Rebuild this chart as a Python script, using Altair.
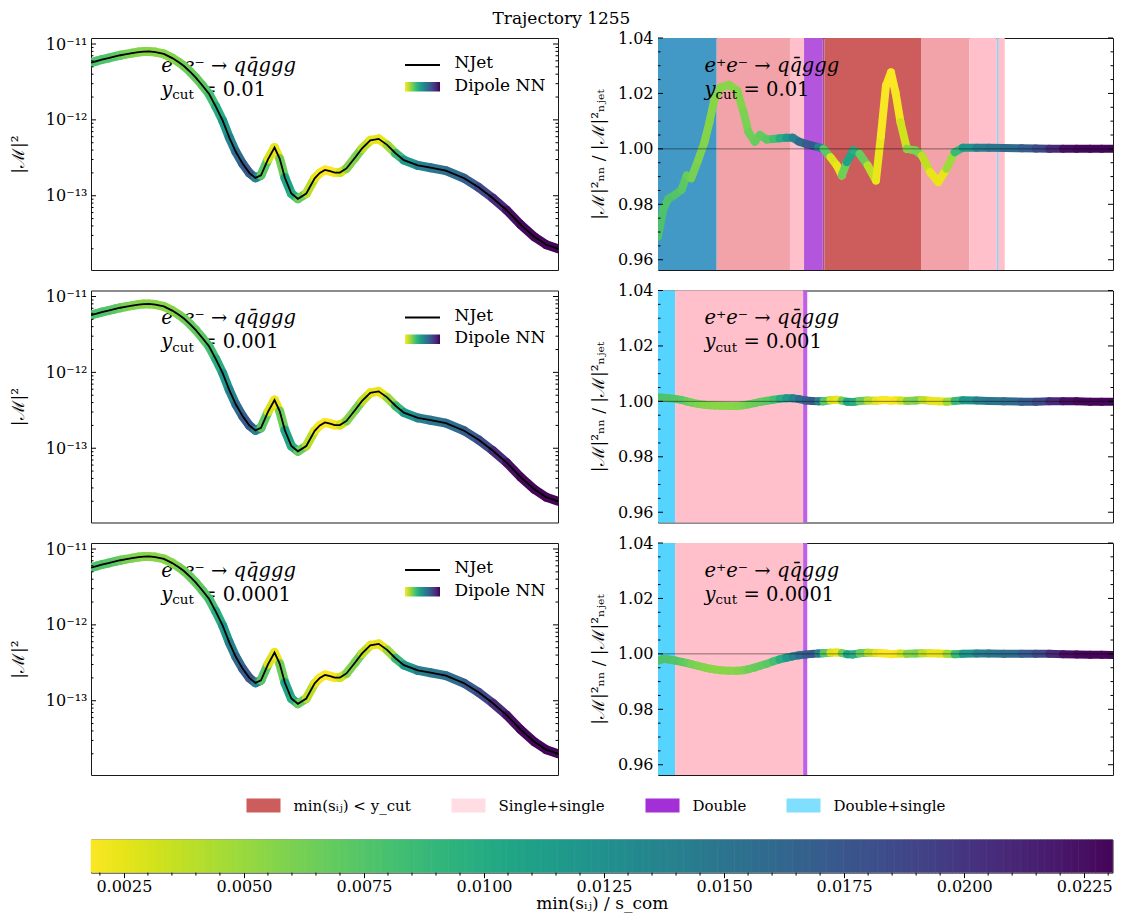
import altair as alt
import numpy as np
import pandas as pd

FONT = "DejaVu Serif"

# ---------------- data ----------------
# position along the trajectory (fraction of the x extent)
T = [0.000, 0.012, 0.023, 0.037, 0.052, 0.063, 0.073, 0.088, 0.102, 0.113,
     0.124, 0.138, 0.156, 0.174, 0.188, 0.199, 0.213, 0.224, 0.239, 0.253,
     0.267, 0.282, 0.296, 0.310, 0.325, 0.339, 0.352, 0.364, 0.379, 0.393,
     0.404, 0.415, 0.429, 0.443, 0.461, 0.479, 0.490, 0.501, 0.512, 0.522,
     0.533, 0.547, 0.566, 0.580, 0.598, 0.616, 0.634, 0.652, 0.670, 0.700,
     0.727, 0.760, 0.799, 0.830, 0.860, 0.890, 0.920, 0.950, 0.975, 1.000]

# min(s_ij)/s_com at each point (colour value)
C = [0.0078, 0.0078, 0.0077, 0.0076, 0.0074, 0.0070, 0.0064, 0.0060, 0.0058, 0.0056,
     0.0056, 0.0055, 0.0055, 0.0056, 0.0058, 0.0062, 0.0066, 0.0068, 0.0070, 0.0075,
     0.0088, 0.0110, 0.0128, 0.0148, 0.0168, 0.0176, 0.0170, 0.0105, 0.0039, 0.0018,
     0.0028, 0.0100, 0.0114, 0.0082, 0.0050, 0.0028, 0.0019, 0.0017, 0.0017, 0.0018,
     0.0022, 0.0043, 0.0071, 0.0049, 0.0026, 0.0022, 0.0026, 0.0071, 0.0103, 0.0136,
     0.0147, 0.0151, 0.0162, 0.0179, 0.0194, 0.0222, 0.0229, 0.0230, 0.0231, 0.0231]

# |M|^2 (NJet, NN indistinguishable on log scale)
M2 = [5.66e-12, 5.96e-12, 6.24e-12, 6.52e-12, 6.87e-12, 7.11e-12, 7.31e-12, 7.59e-12, 7.83e-12, 7.96e-12,
      7.98e-12, 7.83e-12, 7.41e-12, 6.52e-12, 5.75e-12, 5.13e-12, 4.27e-12, 3.63e-12, 2.82e-12, 2.19e-12,
      1.51e-12, 9.77e-13, 5.89e-13, 3.80e-13, 2.63e-13, 2.00e-13, 1.72e-13, 1.86e-13, 3.02e-13, 4.32e-13,
      3.09e-13, 1.74e-13, 1.07e-13, 9.12e-14, 1.07e-13, 1.70e-13, 2.00e-13, 2.19e-13, 2.11e-13, 2.02e-13,
      2.02e-13, 2.29e-13, 3.21e-13, 4.17e-13, 5.37e-13, 5.62e-13, 4.68e-13, 3.63e-13, 2.95e-13, 2.51e-13,
      2.34e-13, 2.14e-13, 1.70e-13, 1.29e-13, 9.33e-14, 6.46e-14, 4.17e-14, 2.85e-14, 2.26e-14, 2.00e-14]

# ratio NN / NJet, y_cut = 0.01
R1 = [0.9684, 0.9784, 0.9820, 0.9834, 0.9853, 0.9904, 0.9894, 0.9958, 1.0024, 1.0096,
      1.0180, 1.0222, 1.0231, 1.0210, 1.0132, 1.0060, 1.0026, 1.0050, 1.0034, 1.0036,
      1.0038, 1.0040, 1.0040, 1.0026, 1.0018, 1.0012, 1.0006, 1.0000, 0.9970, 0.9940,
      0.9904, 0.9952, 0.9994, 0.9982, 0.9940, 0.9886, 1.0048, 1.0228, 1.0276, 1.0204,
      1.0096, 1.0000, 0.9994, 0.9976, 0.9916, 0.9880, 0.9928, 0.9988, 1.0004, 1.0004,
      1.0004, 1.0003, 1.0002, 1.0001, 1.0000, 1.0000, 1.0000, 1.0000, 1.0000, 1.0000]
# y_cut = 0.001
R2 = [1.0015, 1.0013, 1.0011, 1.0009, 1.0005, 1.0000, 0.9996, 0.9991, 0.9988, 0.9986,
      0.9985, 0.9984, 0.9983, 0.9983, 0.9986, 0.9989, 0.9994, 0.9998, 1.0002, 1.0006,
      1.0009, 1.0011, 1.0011, 1.0008, 1.0003, 1.0001, 1.0000, 1.0000, 1.0004, 1.0006,
      1.0003, 0.9999, 0.9998, 1.0001, 1.0003, 1.0002, 1.0004, 1.0005, 1.0002, 1.0004,
      1.0003, 1.0001, 1.0003, 1.0005, 1.0002, 1.0000, 0.9999, 1.0001, 1.0004, 1.0003,
      1.0001, 1.0000, 0.9999, 0.9999, 1.0000, 1.0000, 1.0000, 0.9999, 0.9999, 0.9999]
# y_cut = 0.0001
R3 = [0.9975, 0.9982, 0.9980, 0.9976, 0.9971, 0.9967, 0.9963, 0.9957, 0.9951, 0.9947,
      0.9944, 0.9941, 0.9939, 0.9939, 0.9941, 0.9945, 0.9951, 0.9957, 0.9964, 0.9973,
      0.9980, 0.9986, 0.9991, 0.9995, 0.9998, 1.0000, 1.0001, 1.0002, 1.0004, 1.0005,
      1.0003, 0.9999, 0.9998, 1.0002, 1.0004, 1.0003, 1.0002, 1.0001, 0.9999, 1.0000,
      1.0001, 1.0000, 1.0001, 1.0002, 1.0002, 1.0001, 1.0000, 0.9999, 1.0000, 1.0001,
      1.0001, 1.0000, 1.0000, 1.0000, 1.0000, 0.9999, 0.9998, 0.9997, 0.9997, 0.9996]
RATIOS = [R1, R2, R3]
YCUTS = ["0.01", "0.001", "0.0001"]

# shaded regions in the ratio panels
REG_START = [[0.000, 0.129, 0.290, 0.321, 0.362, 0.366, 0.578, 0.684, 0.744, 0.749],
             [0.000, 0.0375, 0.319],
             [0.000, 0.0375, 0.319]]
REG_END = [[0.129, 0.290, 0.321, 0.362, 0.366, 0.578, 0.684, 0.744, 0.749, 0.762],
           [0.0375, 0.319, 0.328],
           [0.0375, 0.319, 0.328]]
REG_COL = [["#4399c6", "#f2a2a9", "#ffc0cb", "#b455de", "#a8508f", "#cd5c5c",
            "#f2a2a9", "#ffc0cb", "#a9c9e6", "#ffc0cb"],
           ["#55d4ff", "#ffc0cb", "#bd5fe8"],
           ["#55d4ff", "#ffc0cb", "#bd5fe8"]]

LEG_LABELS = ["min(sᵢⱼ) < y_cut", "Single+single", "Double", "Double+single"]
LEG_COLORS = ["#cd5c5c", "#ffdde3", "#a32fd6", "#80dfff"]

LOG_MAJOR = [1e-13, 1e-12, 1e-11]
LOG_MINOR = [k * 10.0 ** e for e in (-14, -13, -12) for k in range(2, 10)]
R_MAJOR = [0.96, 0.98, 1.0, 1.02, 1.04]
R_MINOR = [0.965, 0.97, 0.975, 0.985, 0.99, 0.995, 1.005, 1.01, 1.015, 1.025, 1.03, 1.035]
CB_MAJOR = [0.0025, 0.005, 0.0075, 0.01, 0.0125, 0.015, 0.0175, 0.02, 0.0225]
CB_MINOR = [0.002, 0.003, 0.0035, 0.004, 0.0045, 0.0055, 0.006, 0.0065, 0.007, 0.008,
            0.0085, 0.009, 0.0095, 0.0105, 0.011, 0.0115, 0.012, 0.013, 0.0135, 0.014,
            0.0145, 0.0155, 0.016, 0.0165, 0.017, 0.018, 0.0185, 0.019, 0.0195, 0.0205,
            0.021, 0.0215, 0.022, 0.023]
C_DOMAIN = [0.0017, 0.0233]
CB_DOMAIN = [0.001815, 0.02309]

VIRIDIS_STOPS = ["#fde725", "#b5de2b", "#6ece58", "#35b779", "#1f9e89",
                 "#26828e", "#31688e", "#3e4989", "#482878", "#440154"]

# ---------------- layout constants ----------------
W_L, W_R, H = 467, 455, 232
CB_W, CB_H = 1021.5, 33
MAJ, MIN = 5, 2.5

xs = alt.Scale(domain=[0, 1], nice=False, zero=False)
c_scale = alt.Scale(scheme="viridis", reverse=True, domain=C_DOMAIN)
log_sc = alt.Scale(type="log", domain=[1.05e-14, 1.2e-11], nice=False)
r_sc = alt.Scale(domain=[0.9563, 1.04], nice=False, zero=False)
ONE = pd.DataFrame({"s": [""]})

LEFT_AXIS = alt.Axis(
    orient="left", values=LOG_MAJOR, ticks=False, domain=False, grid=False,
    labelExpr="datum.value < 3e-13 ? '10⁻¹³' : datum.value < 3e-12 ? '10⁻¹²' : '10⁻¹¹'",
    title="|ℳ|²", labelPadding=4, titlePadding=18)
RIGHT_AXIS = alt.Axis(
    orient="left", values=R_MAJOR, format=".2f", ticks=False, domain=False, grid=False,
    title="|ℳ|²ₙₙ / |ℳ|²ₙⱼₑₜ", labelPadding=5, titlePadding=10)
CB_AXIS = alt.Axis(
    orient="bottom", values=CB_MAJOR, format=".4f", domain=False, grid=False,
    tickSize=5, tickColor="black", labelPadding=1, labelFontSize=16,
    title="min(sᵢⱼ) / s_com", titlePadding=1, titleFontSize=17)


def seg_df(yvals):
    rows = []
    for i in range(len(T) - 1):
        cc = 0.5 * (C[i] + C[i + 1])
        rows.append({"seg": i, "t": T[i], "y": yvals[i], "c": cc})
        rows.append({"seg": i, "t": T[i + 1], "y": yvals[i + 1], "c": cc})
    return pd.DataFrame(rows)


def tick_rules(values, scale, axis, W, size):
    df = pd.DataFrame({"y": values})
    Y = alt.Y("y:Q", scale=scale, axis=axis)
    left = alt.Chart(df).mark_rule(color="black", strokeWidth=1).encode(
        y=Y, x=alt.value(0), x2=alt.value(size))
    right = alt.Chart(df).mark_rule(color="black", strokeWidth=1).encode(
        y=Y, x=alt.value(W - size), x2=alt.value(W))
    return [left, right]


def txt(text, x, y, size, style="normal"):
    return alt.Chart(pd.DataFrame({"s": [text]})).mark_text(
        align="left", baseline="alphabetic", font=FONT, fontSize=size,
        fontStyle=style, color="black").encode(text="s:N", x=alt.value(x), y=alt.value(y))


def annotation(x0, ycut):
    return [
        txt("e⁺e⁻ → qq̄ggg", x0, 33.5, 19.5, "italic"),
        txt("y", x0, 57.5, 19.5, "italic"),
        txt("cut", x0 + 11, 61, 13.5),
        txt("= " + ycut, x0 + 39, 57.5, 19.5),
    ]


def left_panel(row):
    sd = seg_df(M2)
    ldf = pd.DataFrame({"t": T, "y": M2})
    X = alt.X("t:Q", scale=xs, axis=None)
    Y = alt.Y("y:Q", scale=log_sc, axis=LEFT_AXIS)
    band = alt.Chart(sd).mark_line(strokeWidth=9, strokeCap="round", strokeJoin="round",
                                   clip=True).encode(
        x=X, y=Y, detail="seg:N",
        stroke=alt.Stroke("c:Q", scale=c_scale, legend=None))
    njet = alt.Chart(ldf).mark_line(color="black", strokeWidth=1.8, clip=True).encode(x=X, y=Y)
    grad = alt.LinearGradient(
        gradient="linear", x1=0, x2=1, y1=0, y2=0,
        stops=[alt.GradientStop(offset=i / (len(VIRIDIS_STOPS) - 1), color=col)
               for i, col in enumerate(VIRIDIS_STOPS)])
    leg = [
        alt.Chart(ONE).mark_rule(color="black", strokeWidth=2).encode(
            x=alt.value(314), x2=alt.value(349), y=alt.value(27)),
        txt("NJet", 363.5, 30, 17),
        alt.Chart(ONE).mark_rect(fill=grad).encode(
            x=alt.value(314), x2=alt.value(349), y=alt.value(44), y2=alt.value(53.6)),
        txt("Dipole NN", 363.5, 52.5, 17),
    ]
    ticks = (tick_rules(LOG_MAJOR, log_sc, LEFT_AXIS, W_L, MAJ)
             + tick_rules(LOG_MINOR, log_sc, LEFT_AXIS, W_L, MIN))
    layers = annotation(70.2, YCUTS[row]) + [band, njet] + ticks + leg
    return alt.layer(*layers).properties(width=W_L, height=H)


def right_panel(row):
    rdf = pd.DataFrame({"t0": REG_START[row], "t1": REG_END[row], "col": REG_COL[row]})
    sd = seg_df(RATIOS[row])
    X = alt.X("t:Q", scale=xs, axis=None)
    Y = alt.Y("y:Q", scale=r_sc, axis=RIGHT_AXIS)
    reg = alt.Chart(rdf).mark_rect().encode(
        x=alt.X("t0:Q", scale=xs, axis=None), x2="t1:Q",
        y=alt.value(0), y2=alt.value(H),
        fill=alt.Fill("col:N", scale=None))
    band = alt.Chart(sd).mark_line(strokeWidth=8, strokeCap="round", strokeJoin="round",
                                   clip=True).encode(
        x=X, y=Y, detail="seg:N",
        stroke=alt.Stroke("c:Q", scale=c_scale, legend=None))
    rule = alt.Chart(pd.DataFrame({"y": [1.0]})).mark_rule(
        color="black", opacity=0.45, strokeWidth=1).encode(y=Y)
    ticks = (tick_rules(R_MAJOR, r_sc, RIGHT_AXIS, W_R, MAJ)
             + tick_rules(R_MINOR, r_sc, RIGHT_AXIS, W_R, MIN))
    layers = [reg, band, rule] + ticks + annotation(46.5, YCUTS[row])
    return alt.layer(*layers).properties(width=W_R, height=H)


def colorbar():
    cb_scale = alt.Scale(domain=CB_DOMAIN, nice=False, zero=False)
    n = 300
    step = (CB_DOMAIN[1] - CB_DOMAIN[0]) / n
    cb_vals = [CB_DOMAIN[0] + (i + 0.5) * step for i in range(n)]
    X = alt.X("v:Q", scale=cb_scale, axis=CB_AXIS)
    cbar = alt.Chart(pd.DataFrame({"v": cb_vals})).mark_rule(
        strokeWidth=CB_W / n + 0.6).encode(
        x=X, y=alt.value(0), y2=alt.value(CB_H),
        stroke=alt.Stroke("v:Q", scale=c_scale, legend=None))
    minor = alt.Chart(pd.DataFrame({"v": CB_MINOR})).mark_rule(color="black", strokeWidth=1).encode(
        x=X, y=alt.value(CB_H), y2=alt.value(CB_H + 3))
    dummy = alt.Chart(pd.DataFrame({"kind": LEG_LABELS})).mark_rect().encode(
        color=alt.Color("kind:N", scale=alt.Scale(domain=LEG_LABELS, range=LEG_COLORS),
                        legend=alt.Legend(
                            orient="none", legendX=155.5, legendY=750.5,
                            direction="horizontal", columns=4, title=None,
                            gridAlign="none",
                            symbolType="M-1,-0.41H1V0.41H-1Z", symbolSize=1156,
                            symbolStrokeWidth=0, symbolOpacity=1,
                            labelFont=FONT, labelFontSize=15, labelOffset=13,
                            columnPadding=40, padding=0, labelLimit=400)),
        x=alt.value(0), x2=alt.value(0), y=alt.value(0), y2=alt.value(0))
    return alt.layer(cbar, minor, dummy).properties(width=CB_W, height=CB_H)


rows = [alt.hconcat(left_panel(r), right_panel(r), spacing=29) for r in range(3)]
grid = alt.vconcat(*rows, spacing=10.5)

chart = alt.vconcat(grid, colorbar(), spacing=60.6).properties(
    title=alt.Title("Trajectory 1255", font=FONT, fontSize=17, fontWeight="normal",
                    anchor="middle", offset=1.5, color="black"),
    padding={"left": 0, "top": 2, "right": 0, "bottom": 0},
).configure_view(
    stroke="#1a1a1a", strokeWidth=1
).configure_axis(
    labelFont=FONT, titleFont=FONT, labelFontSize=16, titleFontSize=17,
    labelColor="black", titleColor="black", titleFontWeight="normal"
).configure_legend(
    labelColor="black"
)

chart.save("out.html", embed_options={"renderer": "svg", "actions": False})
